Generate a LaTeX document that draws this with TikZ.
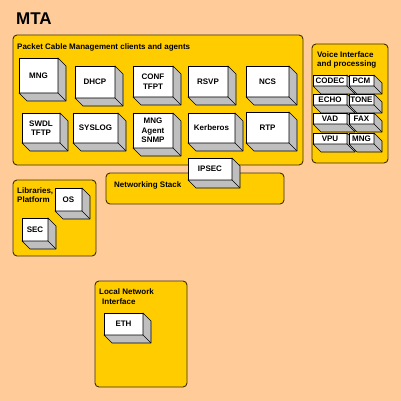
\documentclass[tikz,border=0pt]{standalone}
\usepackage{fontspec}
\setmainfont{Liberation Sans}
\definecolor{bgpeach}{HTML}{FFCC99}
\definecolor{panelgold}{HTML}{FFCC00}
\definecolor{panelline}{HTML}{3D2E00}
\definecolor{sidegray}{HTML}{BFBFBF}
\def\cdep{8}
\newcommand\mkcube[6]{%
  \node[cubefront, minimum width=#4, minimum height=#5, anchor=north west] (#1) at (#2,#3) {#6};
  \filldraw[cubeside] (#1.north east) -- ++(\cdep,\cdep) -- ([shift={(\cdep,\cdep)}]#1.south east) -- ([shift={(\cdep,\cdep)}]#1.south west) -- (#1.south west) -- (#1.south east) -- cycle;
  \draw[cubeside] (#1.south east) -- ([shift={(\cdep,\cdep)}]#1.south east);
}
\begin{document}
\begin{tikzpicture}[x=1pt,y=-1pt,
  panelbox/.style={draw=panelline, fill=panelgold, line width=0.9pt, rounded corners=4pt},
  cubefront/.style={draw=black, fill=white, line width=0.6pt, inner sep=0pt, outer sep=0pt,
    font=\bfseries\fontsize{8}{9.5}\selectfont, align=center},
  cubeside/.style={fill=sidegray, draw=black, line width=0.6pt, line join=round},
  ptitle/.style={anchor=base west, inner sep=0pt, font=\bfseries\fontsize{8}{9.5}\selectfont, align=left}]
\useasboundingbox (0,0) rectangle (401,401);
\fill[bgpeach] (0,0) rectangle (401,401);
\node[anchor=base west, inner sep=0pt, font=\bfseries\fontsize{17}{20}\selectfont] (mta) at (16,25) {MTA};

% panels
\draw[panelbox] (13,35) rectangle (303,165);
\draw[panelbox] (312,44) rectangle (388,163);
\draw[panelbox] (106,173) rectangle (284,204);
\draw[panelbox] (13,180) rectangle (96,256);
\draw[panelbox] (95,281) rectangle (187,387);

\node[ptitle] (tpc) at (17,49.5) {Packet Cable Management clients and agents};
\node[ptitle] (tvi1) at (317,58) {Voice Interface};
\node[ptitle] (tvi2) at (317,67) {and processing};
\node[ptitle] (tns) at (114,187.5) {Networking Stack};
\node[ptitle] (tlp1) at (17,193.5) {Libraries,};
\node[ptitle] (tlp2) at (17,202.5) {Platform};
\node[ptitle] (tln1) at (99,294.5) {Local Network};
\node[ptitle] (tln2) at (102,304) {Interface};

% main panel cubes
\mkcube{mng}{19}{58}{39}{35}{MNG}
\mkcube{dhcp}{75}{66}{40}{32}{DHCP}
\mkcube{conf}{133}{66}{40}{31}{CONF\\TFPT}
\mkcube{rsvp}{188}{66}{40}{31}{RSVP}
\mkcube{ncs}{246}{66}{43}{31}{NCS}
\mkcube{swdl}{22}{113}{38}{30}{SWDL\\TFTP}
\mkcube{syslog}{73}{113}{45}{30}{SYSLOG}
\mkcube{snmp}{133}{113}{40}{35}{MNG\\Agent\\SNMP}
\mkcube{kerb}{188}{113}{47}{30}{Kerberos}
\mkcube{rtp}{246}{112}{43}{31}{RTP}
\mkcube{ipsec}{188}{158}{44}{22}{IPSEC}
% libraries
\mkcube{os}{55}{188}{27}{23}{OS}
\mkcube{sec}{22}{218}{26}{23}{SEC}
% local network
\mkcube{eth}{104}{313}{39}{22}{ETH}
% voice
\mkcube{codec}{313}{75}{34}{11}{CODEC}
\mkcube{pcm}{349}{75}{25}{11}{PCM}
\mkcube{echo}{313}{94}{34}{11}{ECHO}
\mkcube{tone}{349}{94}{25}{11}{TONE}
\mkcube{vad}{313}{113}{34}{11}{VAD}
\mkcube{fax}{349}{113}{25}{11}{FAX}
\mkcube{vpu}{313}{133}{34}{11}{VPU}
\mkcube{vmng}{349}{133}{25}{11}{MNG}
\end{tikzpicture}
\end{document}
